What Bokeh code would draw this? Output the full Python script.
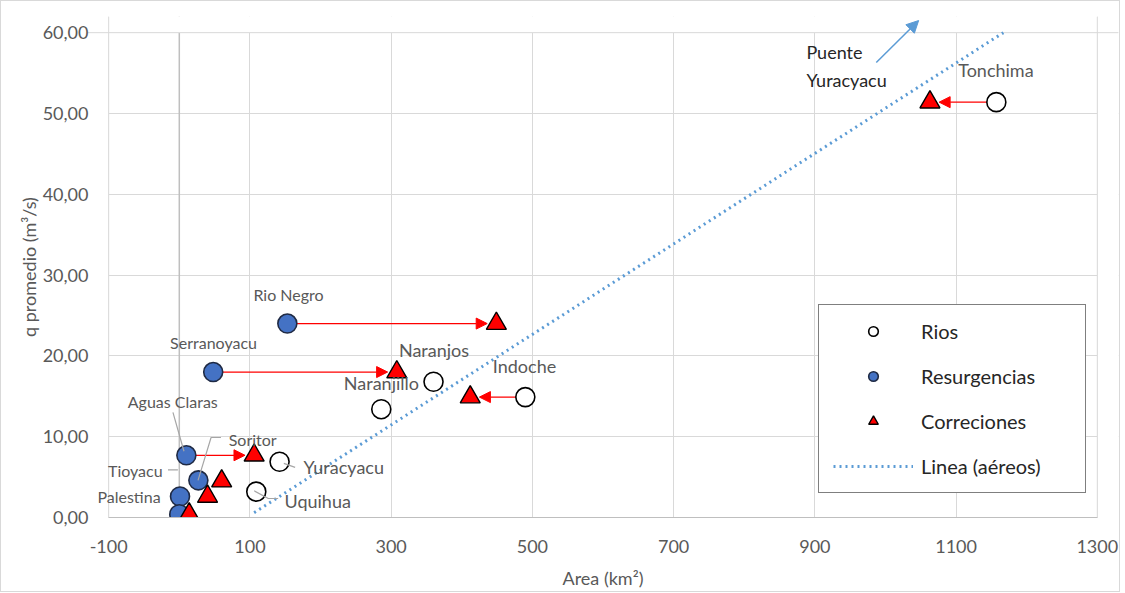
from bokeh.plotting import figure
from bokeh.models import (FixedTicker, Arrow, NormalHead, Span, Label,
                          Legend, LegendItem, Range1d, BoxAnnotation)
from bokeh.embed import file_html
from bokeh.resources import INLINE

FONT = "Lato"

# ---- data ----
x_ticks = [-100, 100, 300, 500, 700, 900, 1100, 1300]
x_tick_labels = ["-100", "100", "300", "500", "700", "900", "1100", "1300"]
y_ticks = [0, 10, 20, 30, 40, 50, 60]
y_tick_labels = ["0,00", "10,00", "20,00", "30,00", "40,00", "50,00", "60,00"]

rios_name = ["Tonchima", "Indoche", "Naranjos", "Naranjillo", "Yuracyacu", "Uquihua"]
rios_x = [1157, 490, 360, 286, 142, 109]
rios_y = [51.4, 14.9, 16.8, 13.4, 6.9, 3.2]

res_name = ["Rio Negro", "Serranoyacu", "Aguas Claras", "Soritor", "Palestina", "Tioyacu"]
res_x = [153, 48, 10, 27, 1, 0]
res_y = [24.0, 18.0, 7.7, 4.6, 2.6, 0.4]

corr_x = [1063, 412, 449, 308, 106, 60, 40, 14]
corr_y = [51.4, 14.9, 24.0, 18.0, 7.7, 4.5, 2.6, 0.4]

arrow_x0 = [153, 48, 10, 490, 1157]
arrow_x1 = [449, 308, 106, 412, 1063]
arrow_y = [24.0, 18.0, 7.7, 14.9, 51.4]

linea_x = [106, 1167]
linea_y = [0.6, 60.0]

# labels of the "Rios" series
rios_lab_x = [1103, 444, 311, 233, 176, 149]
rios_lab_y = [55.4, 18.8, 20.7, 16.7, 6.2, 2.1]
# labels of the "Resurgencias" series
res_lab_text = ["Rio Negro", "Serranoyacu", "Aguas Claras", "Soritor", "Tioyacu", "Palestina"]
res_lab_x = [105, -13, -73, 70, -101, -116]
res_lab_y = [27.6, 21.6, 14.4, 9.7, 5.8, 2.6]

leader_xs = [[-9, 6.6], [59, 45, 26.5], [-16, -2], [148, 164], [106, 126, 140]]
leader_ys = [[13.0, 8.2], [9.9, 9.9, 4.6], [5.9, 5.9], [6.7, 6.2], [3.3, 2.35, 2.35]]

puente_text = ["Puente", "Yuracyacu"]
puente_x = [888, 888]
puente_y = [57.6, 54.2]
puente_arrow = [987, 56.3, 1047, 61.5]

X_MIN, X_MAX = -100, 1300
Y_MIN, Y_MAX = 0, 60
X_ROOM = 30     # extra room around the plot area for labels and the arrow tip
Y_ROOM = 2

# ---- figure ----
p = figure(frame_width=1031, frame_height=501, output_backend="svg", toolbar_location=None,
           x_range=Range1d(X_MIN - X_ROOM, X_MAX + X_ROOM), y_range=Range1d(Y_MIN, Y_MAX + Y_ROOM),
           min_border_left=86, min_border_right=1, min_border_top=15, min_border_bottom=73)
p.outline_line_color = None
p.background_fill_color = "white"
p.border_fill_color = "white"
p.styles = {"border": "1px solid #d9d9d9"}

p.xaxis.ticker = FixedTicker(ticks=x_ticks)
p.yaxis.ticker = FixedTicker(ticks=y_ticks)
p.xaxis.major_label_overrides = dict(zip(x_ticks, x_tick_labels))
p.yaxis.major_label_overrides = dict(zip(y_ticks, y_tick_labels))
p.xgrid.ticker = FixedTicker(ticks=x_ticks)
p.ygrid.ticker = FixedTicker(ticks=y_ticks)
for g in (p.xgrid, p.ygrid):
    g.grid_line_color = "#d9d9d9"
    g.grid_line_width = 1

for ax in (p.xaxis, p.yaxis):
    ax.major_tick_line_color = None
    ax.minor_tick_line_color = None
    ax.major_tick_out = 0
    ax.major_label_text_font = FONT
    ax.major_label_text_font_size = "18px"
    ax.major_label_text_color = "#595959"
    ax.axis_label_text_font = FONT
    ax.axis_label_text_font_size = "18px"
    ax.axis_label_text_color = "#595959"
    ax.axis_label_text_font_style = "normal"
p.xaxis.axis_line_color = "#bfbfbf"
p.xaxis.bounds = (X_MIN, X_MAX)
p.yaxis.axis_line_color = None
p.xaxis.axis_label = "Area (km²)"
p.yaxis.axis_label = "q promedio (m³/s)"
p.xaxis.major_label_standoff = 22
p.yaxis.major_label_standoff = -1
p.xaxis.axis_label_standoff = 11
p.yaxis.axis_label_standoff = 0

# vertical axis crossing at x = 0
p.add_layout(Span(location=0, dimension="height", line_color="#bfbfbf", line_width=1.5,
                  level="underlay"))

# red correction arrows
for x0, x1, yy in zip(arrow_x0, arrow_x1, arrow_y):
    d = 1 if x1 > x0 else -1
    p.add_layout(Arrow(end=NormalHead(size=11, fill_color="#ff0000", line_color="#ff0000"),
                       x_start=x0, y_start=yy, x_end=x1 - d * 13, y_end=yy,
                       line_color="#ff0000", line_width=1.2, level="underlay"))

# blank the strips around the plot area, then redraw its edges
for kw in (dict(bottom=Y_MAX), dict(right=X_MIN), dict(left=X_MAX)):
    p.add_layout(BoxAnnotation(fill_color="white", fill_alpha=1, line_color=None,
                               level="underlay", **kw))
p.add_layout(Span(location=Y_MAX, dimension="width", line_color="#d9d9d9", line_width=1,
                  level="underlay"))
for xe in (X_MIN, X_MAX):
    p.add_layout(Span(location=xe, dimension="height", line_color="#d9d9d9", line_width=1,
                      level="underlay"))

# trend line
linea_r = p.line(linea_x, linea_y, line_color="#5b9bd5", line_width=3, line_dash="2 4")

# markers
rios_r = p.scatter(rios_x, rios_y, marker="circle", size=19, fill_color="white",
                   line_color="black", line_width=1.6)
res_r = p.scatter(res_x, res_y, marker="circle", size=19, fill_color="#4472c4",
                  line_color="#1f2a44", line_width=1.6)
corr_r = p.scatter(corr_x, corr_y, marker="triangle", size=20, fill_color="#ff0000",
                   line_color="black", line_width=1.4)

# leader lines (over markers)
p.multi_line(leader_xs, leader_ys, line_color="#a6a6a6", line_width=1.2)

# labels
def add_labels(xs, ys, texts, size, color):
    for xx, yy, tt in zip(xs, ys, texts):
        p.add_layout(Label(x=xx, y=yy, text=tt, text_font=FONT, text_font_size=size,
                           text_color=color, text_baseline="middle", text_align="left"))

add_labels(rios_lab_x, rios_lab_y, rios_name, "18px", "#595959")
add_labels(res_lab_x, res_lab_y, res_lab_text, "16px", "#595959")
add_labels(puente_x, puente_y, puente_text, "18px", "#262626")

p.add_layout(Arrow(end=NormalHead(size=12, fill_color="#5b9bd5", line_color="#5b9bd5"),
                   x_start=puente_arrow[0], y_start=puente_arrow[1],
                   x_end=puente_arrow[2], y_end=puente_arrow[3],
                   line_color="#5b9bd5", line_width=1.5))

legend = Legend(items=[LegendItem(label="Rios", renderers=[rios_r]),
                       LegendItem(label="Resurgencias", renderers=[res_r]),
                       LegendItem(label="Correciones", renderers=[corr_r]),
                       LegendItem(label="Linea (aéreos)", renderers=[linea_r])],
                location=(731, 24), padding=14, spacing=21, glyph_width=80, glyph_height=24,
                label_height=24, label_width=150, label_standoff=8, margin=0,
                label_text_font=FONT, label_text_font_size="20px", label_text_color="#262626",
                border_line_color="black", border_line_width=1.5, background_fill_alpha=1)
p.add_layout(legend, "center")

open("out.html", "w").write(file_html(p, INLINE))
